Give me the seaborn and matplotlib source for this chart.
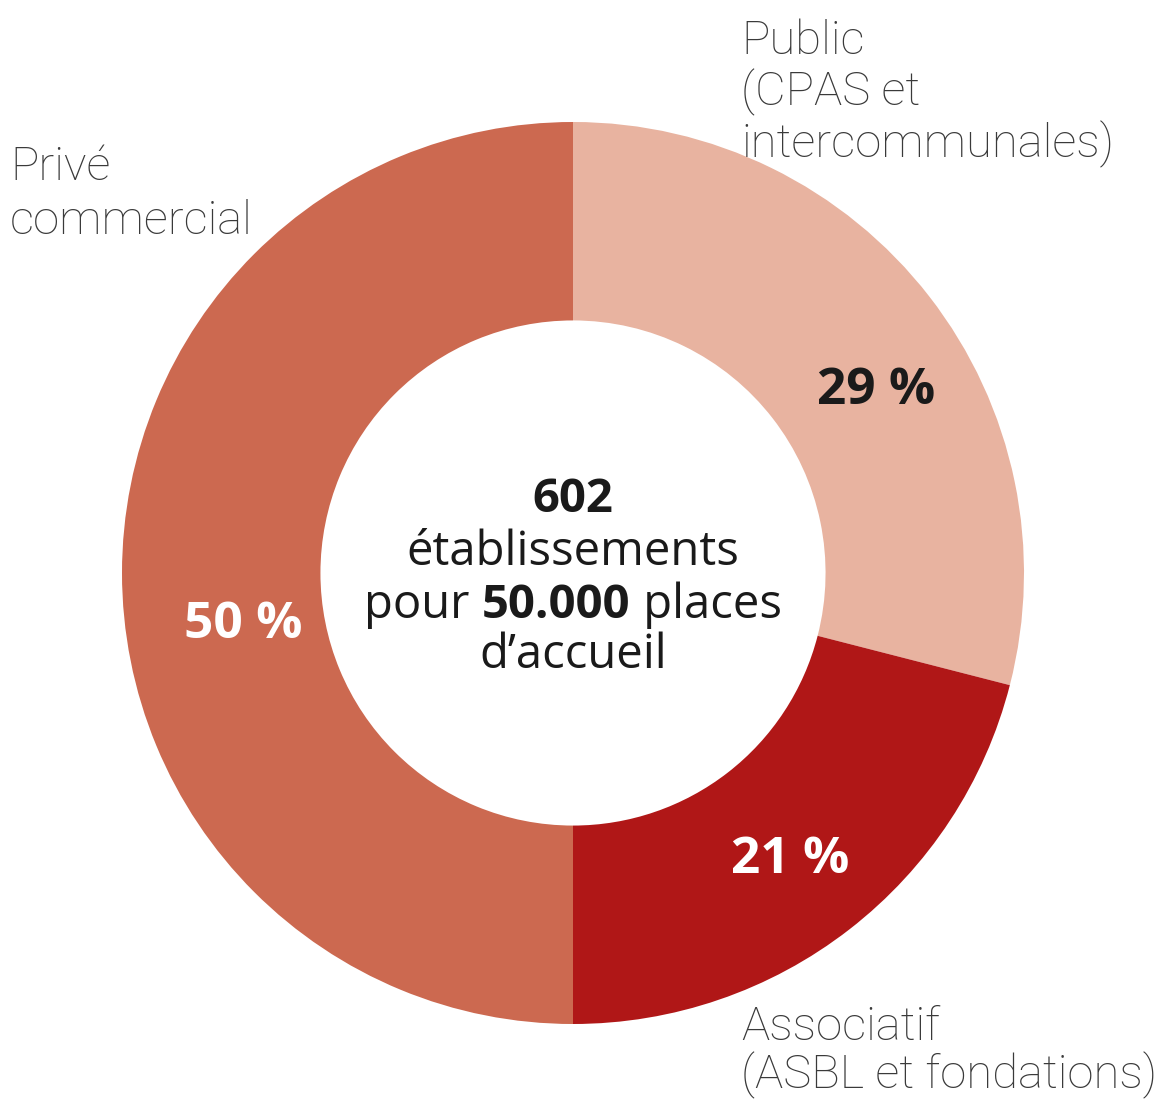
import matplotlib
matplotlib.use("Agg")
import matplotlib.pyplot as plt
import seaborn as sns

# Répartition des établissements par type de gestionnaire
categories = ["Public", "Associatif", "Privé commercial"]
shares = [29, 21, 50]
category_lines = [
    ["Public", "(CPAS et", "intercommunales)"],
    ["Associatif", "(ASBL et fondations)"],
    ["Privé", "commercial"],
]
pct_labels = ["29 %", "21 %", "50 %"]
total_establishments = "602"
total_places = "50.000"

sns.set_theme(style="white")
plt.rcParams["font.family"] = ["Open Sans", "DejaVu Sans"]

colors = sns.color_palette(["#E8B3A0", "#B01717", "#CC6950"])
pct_colors = ["#1a1a1a", "white", "white"]

W, H = 1160, 1106
fig = plt.figure(figsize=(W / 100, H / 100), dpi=100)
fig.patch.set_facecolor("white")
ax = fig.add_axes([0, 0, 1, 1])

cx, cy, R = 573, 573, 451
ring = 0.44

# y axis runs downward, so counterclock=True draws the slices clockwise on screen
ax.set_ylim(H, 0)
wedges, _ = ax.pie(
    shares, colors=colors, startangle=-90, counterclock=True,
    center=(cx, cy), radius=R, frame=True,
    wedgeprops=dict(width=R * ring, linewidth=0),
)
ax.set_xlim(0, W)
ax.set_ylim(H, 0)
ax.set_aspect("equal")
ax.axis("off")

# percentage labels
pct_pos = [(876, 391), (790, 860), (243, 625)]
for (x, y), t, c in zip(pct_pos, pct_labels, pct_colors):
    ax.text(x, y, t, ha="center", va="center", fontsize=37,
            fontweight="bold", color=c)

# category labels, one line at a time on its baseline
lab_kw = dict(fontsize=34, color="#3a3a3a", fontweight="light",
              family=["Roboto", "DejaVu Sans"], ha="left", va="baseline")
label_anchor = [(741, 54, 51.5), (741, 1040, 48), (10, 180, 54)]
for lines, (x, y0, step) in zip(category_lines, label_anchor):
    for i, s in enumerate(lines):
        ax.text(x, y0 + i * step, s, **lab_kw)

# centre text
ctr_kw = dict(fontsize=34, color="#1a1a1a", ha="center", va="center")
ax.text(cx, 500, total_establishments, fontweight="bold", **ctr_kw)
ax.text(cx, 552, "établissements", **ctr_kw)
ax.text(cx, 655, "d\u2019accueil", **ctr_kw)

# mixed-weight line: "pour 50.000 places"
renderer = fig.canvas.get_renderer()
parts = [("pour ", "normal"), (total_places, "bold"), (" places", "normal")]
tmp = []
for s, w in parts:
    t = ax.text(0, 605, s, fontweight=w, fontsize=34, color="#1a1a1a",
                ha="left", va="center")
    tmp.append(t)
widths = [t.get_window_extent(renderer).width for t in tmp]
x0_px = cx - sum(widths) / 2
for t, w in zip(tmp, widths):
    t.set_x(x0_px)
    x0_px += w

fig.savefig("out.png", dpi=100, facecolor="white")
